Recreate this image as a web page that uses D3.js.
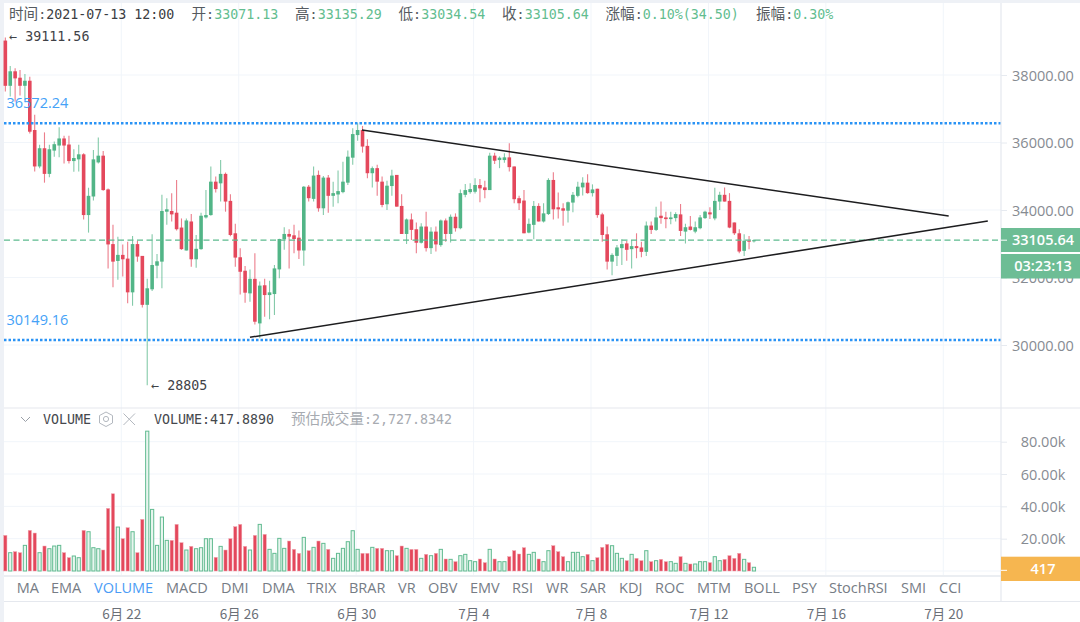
<!DOCTYPE html>
<html lang="zh">
  <head>
    <meta charset="UTF-8" />
    <title>BTC 4h</title>
    <script src="https://d3js.org/d3.v7.min.js"></script>
    <style>
      html, body { margin: 0; padding: 0; background: #fff; }
      svg { display: block; }
      .mono { font-family: "DejaVu Sans Mono", "Noto Sans CJK SC", monospace; font-size: 13.3px; }
      .cjk { font-family: "Noto Sans CJK SC", sans-serif; font-size: 14.6px; }
      .sans { font-family: "Open Sans", "Noto Sans", sans-serif; }
      .axis text { font-family: "Open Sans", "Noto Sans", sans-serif; font-size: 14.5px; fill: #868b92; text-anchor: middle; }
      .axis line { stroke: #e6eaf0; }
      .axis path { display: none; }
      .dateaxis text { font-family: "Noto Sans CJK SC", "Open Sans", sans-serif; font-size: 13.5px; fill: #6b7078; }
      .dateaxis line, .dateaxis path { display: none; }
    </style>
  </head>
  <body>
    <svg id="chart" width="1080" height="622" viewBox="0 0 1080 622"></svg>
    <script>
      // 4h candles
      const opens = [39020,37680,38110,37920,37680,37830,36370,35290,35830,35070,35760,35910,36120,35940,35450,35500,35650,33850,34400,35410,
        35610,34610,32990,32490,32670,32560,31560,32990,32640,31190,31650,32350,32470,33950,33970,33920,33480,32800,33660,32540,
        32840,33780,33850,34840,34790,35070,34270,33310,32600,32200,31530,31960,30640,31770,31480,31510,32240,33130,33290,33250,
        33180,32800,34690,34330,35040,34050,34960,34420,34460,34530,34810,35550,36220,36370,35900,35090,35240,34840,34170,34710,
        35040,34120,33290,33720,33430,33030,33510,32870,33360,32960,33690,33290,33800,33460,34450,34530,34540,34740,34670,34590,
        35610,35480,35480,35560,35290,34350,34280,33330,33560,34120,33660,33880,34890,34080,34050,33980,34220,34420,34670,34810,
        34500,34630,33870,33280,32470,32640,32870,33010,32840,32930,32890,32760,33540,33410,33830,33780,33730,33760,33870,33360,
        33510,33360,33460,33760,33930,33750,34250,34450,34270,33630,33310,32790,33090,33071.13];
      const highs = [39111.56,38270,38200,38150,38030,37950,36820,35930,36300,35930,36030,36450,36200,36200,35800,35930,35680,34660,35780,36150,
        35750,34640,33560,33210,32980,33060,33230,33090,32640,31960,33280,32700,34450,34350,34500,34890,33750,33750,33880,33260,
        33920,34590,35290,34990,35480,35110,34470,33590,32870,32340,32240,32720,31880,31960,31905,32370,33150,33490,33430,33560,
        33390,34710,34740,35290,35170,35010,35040,34840,35170,35430,35760,36420,36570,36490,36100,35290,35340,34990,34870,35190,
        35040,34470,33750,33900,33630,33610,33950,33490,33510,33720,33750,33870,33900,34610,34770,34790,34940,34920,34870,35700,
        35700,35590,35680,35980,35290,34420,34590,33750,34270,34200,34200,34940,35120,34520,34200,34250,34530,34840,34970,35060,
        34760,34630,33920,33510,32720,32960,33130,33080,33110,33310,33060,33660,33660,34100,34250,33950,33950,33930,34180,33590,
        33820,33660,33850,33980,34080,34660,34540,34670,34500,33630,33430,33280,33230,33135.29];
      const lows = [37510,37360,37210,37390,37260,36270,35140,35240,34810,34970,35580,35560,35380,35380,35130,35140,33720,33330,34280,35380,
        34570,32270,31710,31930,32030,31240,31160,32470,31110,28805,31600,31980,31680,33560,33660,33390,32820,32800,32320,32290,
        32820,33750,33830,34520,34250,33950,33220,32320,31500,31250,31280,30610,30200,30840,30760,30890,31980,32820,32270,32720,
        32550,32350,34250,34250,33950,33850,33920,34100,34200,34500,34740,35340,36050,35700,34940,34670,34420,34080,34000,34420,
        34100,33290,32990,33110,32720,33010,32770,32700,32770,32910,33060,33040,33360,33430,34380,34480,34490,34230,34350,34590,
        35360,35240,35400,35140,34200,34000,33310,33310,33130,33660,33630,33850,33720,33750,33530,33630,33930,34380,34430,34480,
        34400,33770,33060,32240,32070,32340,32370,32500,32270,32570,32600,32640,33290,33380,33590,33460,33580,33660,33230,33010,
        33390,33310,33430,33730,33730,33700,34000,34250,33460,33260,32720,32640,32840,33034.54];
      const closes = [37680,38110,37900,37680,37830,36320,35290,35830,35070,35800,35950,36120,35910,35450,35540,35650,33850,34420,35500,35610,
        34590,32980,32470,32670,32540,31560,32990,32620,31190,31680,32370,32480,33970,34020,33870,33430,32840,33690,32540,32850,
        33830,33850,34840,34620,35070,34250,33260,32590,32170,31550,31960,30690,31760,31480,31560,32270,33140,33290,33210,33140,
        32800,34690,34350,35020,34050,34960,34420,34500,34560,34840,35580,36250,36370,35880,35090,35240,34840,34150,34720,35020,
        34100,33290,33720,33410,33030,33510,32870,33360,32980,33690,33290,33800,33460,34500,34590,34620,34740,34640,34590,35610,
        35460,35550,35560,35270,34320,34200,33310,33590,34120,33660,33900,34890,34020,34020,33980,34230,34450,34690,34810,34500,
        34610,33850,33260,32470,32670,32890,32990,32820,32930,32870,32760,33540,33410,33780,33760,33730,33780,33880,33380,33490,
        33410,33490,33780,33950,33870,34270,34450,34250,33480,33310,32770,33090,33060,33105.64];
      const volumes = [22040,11330,11950,11330,15860,25130,23480,11330,15450,13800,15450,15860,11330,8240,9270,8240,25130,24310,14420,13800,
        12980,38730,47790,27190,19980,26780,24310,11330,31930,86520,38110,15860,33370,18950,18950,28840,17510,12980,15240,13800,
        14420,19980,19980,8450,15240,12980,19980,27400,28840,15240,12980,22040,28840,22660,13390,10920,20190,14010,18540,13390,
        10920,20810,12570,14630,18540,17100,13390,7830,10920,14010,18130,24930,13390,10920,10920,14630,14010,14010,12570,12570,
        9480,15450,14010,13390,13390,7830,10300,9480,10920,13390,7420,7210,5770,9480,10300,6390,5770,7420,5150,13390,
        7420,5770,5770,8860,12570,10510,14420,10300,11540,7420,5770,12570,15660,11950,8860,5770,11540,11540,8860,10300,
        6390,8240,14630,16480,15660,10920,7830,6390,10300,7830,6390,12570,5770,6390,7210,5770,5770,4740,8860,4740,
        4330,4330,5770,5770,5150,8860,6390,7210,9480,7830,10920,7210,5150,2300];

      const priceTicks = [38000,36000,34000,32000,30000];
      const volumeTicks = [80000,60000,40000,20000];
      const dateIndex = [24,48,72,96,120,144,168,192];
      const dateLabels = ["6月 22","6月 26","6月 30","7月 4","7月 8","7月 12","7月 16","7月 20"];

      // horizontal support / resistance and trend lines, in candle index / price
      const levels = [36572.24,30149.16];
      const lastPrice = 33105.64;
      const trendFrom = [[73.2,36370],[50.3,30228]];
      const trendTo = [[193.1,33822],[201.1,33674]];

      const tabLabels = ["MA","EMA","VOLUME","MACD","DMI","DMA","TRIX","BRAR","VR","OBV","EMV","RSI","WR","SAR","KDJ","ROC","MTM","BOLL","PSY","StochRSI","SMI","CCI"];
      const tabLeft = [16.7,51,94,166,221,262,307,349,398,428,470,512,546,580,619,655,697,744,792,829,901,939];

      const headLabels = ["时间:","开:","高:","低:","收:","涨幅:","振幅:"];
      const headValues = ["2021-07-13 12:00","33071.13","33135.29","33034.54","33105.64","0.10%(34.50)","0.30%"];
      const headLeft = [9,191.5,295,398.5,502,605.5,756];

      const RED = "#e4485c";
      const GREEN = "#52b587";
      const LEFT = 4, AXIS = 1001;

      const svg = d3.select("#chart");
      const x = d3.scaleLinear().domain([24,192]).range([121.3,943.3]);
      const y = d3.scaleLinear().domain([30000,38000]).range([345,75]);
      const yVol = d3.scaleLinear().domain([0,80000]).range([571,441.7]);
      const cx = i => x(i + 0.3);

      // frame
      svg.append("rect").attr("width",1080).attr("height",3).attr("fill","#eef1f6");
      svg.append("rect").attr("width",LEFT).attr("height",622).attr("fill","#eef1f6");

      // grid
      const grid = svg.append("g").attr("stroke","#f1f5fa").attr("stroke-width",1);
      grid.selectAll(".gx").data(dateIndex).enter().append("line")
        .attr("x1",d => x(d)).attr("x2",d => x(d)).attr("y1",3).attr("y2",575);
      grid.selectAll(".gy").data(priceTicks).enter().append("line")
        .attr("x1",LEFT).attr("x2",AXIS).attr("y1",d => y(d)).attr("y2",d => y(d));
      grid.selectAll(".gv").data(volumeTicks.concat([0])).enter().append("line")
        .attr("x1",LEFT).attr("x2",AXIS).attr("y1",d => yVol(d)).attr("y2",d => yVol(d));

      // candles
      const candles = svg.append("g");
      const idx = d3.range(opens.length);
      const colorOf = i => closes[i] >= opens[i] ? GREEN : RED;
      candles.selectAll("line").data(idx).enter().append("line")
        .attr("x1",cx).attr("x2",cx)
        .attr("y1",i => y(highs[i])).attr("y2",i => y(lows[i]))
        .attr("stroke",colorOf).attr("stroke-width",1.1).attr("opacity",0.7);
      candles.selectAll("rect").data(idx).enter().append("rect")
        .attr("x",i => cx(i) - 1.8).attr("width",3.6)
        .attr("y",i => y(Math.max(opens[i],closes[i])))
        .attr("height",i => Math.max(1,Math.abs(y(opens[i]) - y(closes[i]))))
        .attr("fill",colorOf);

      // volume bars: red solid, green hollow
      const bars = svg.append("g");
      bars.selectAll("rect").data(idx).enter().append("rect")
        .attr("x",i => cx(i) - 1.6).attr("width",3.2)
        .attr("y",i => yVol(volumes[i]))
        .attr("height",i => yVol(0) - yVol(volumes[i]))
        .attr("fill",i => closes[i] >= opens[i] ? "#e8f6ef" : RED)
        .attr("stroke",i => closes[i] >= opens[i] ? "#62bb91" : "#f0a3ad")
        .attr("stroke-width",i => closes[i] >= opens[i] ? 1 : 0.5);

      // current price + levels
      svg.append("line").attr("x1",LEFT).attr("x2",AXIS).attr("y1",y(lastPrice)).attr("y2",y(lastPrice))
        .attr("stroke","#5cbb8e").attr("stroke-width",1.2).attr("stroke-dasharray","6 3.5");
      svg.selectAll(".level").data(levels).enter().append("line")
        .attr("x1",LEFT).attr("x2",AXIS).attr("y1",d => y(d)).attr("y2",d => y(d))
        .attr("stroke","#2a93f5").attr("stroke-width",2.6)
        .attr("stroke-dasharray","2.5 2");

      // trend lines
      svg.selectAll(".trend").data(trendFrom).enter().append("line")
        .attr("x1",d => x(d[0])).attr("y1",d => y(d[1]))
        .attr("x2",(d,i) => x(trendTo[i][0])).attr("y2",(d,i) => y(trendTo[i][1]))
        .attr("stroke","#1d1d1f").attr("stroke-width",1.5);

      // pane separators
      const seps = svg.append("g").attr("stroke","#e5e8ee");
      seps.append("line").attr("x1",LEFT).attr("x2",1080).attr("y1",408).attr("y2",408).attr("stroke-width",1.2);
      seps.append("line").attr("x1",LEFT).attr("x2",AXIS).attr("y1",576).attr("y2",576).attr("stroke-width",1.6);
      seps.append("line").attr("x1",LEFT).attr("x2",1080).attr("y1",601.5).attr("y2",601.5).attr("stroke-width",1.2);
      seps.append("line").attr("x1",AXIS).attr("x2",AXIS).attr("y1",3).attr("y2",601.5).attr("stroke-width",1.2);

      // right axes
      svg.append("g").attr("class","axis").attr("transform",`translate(${AXIS},0)`)
        .call(d3.axisRight(y).tickValues(priceTicks).tickSize(6).tickFormat(d3.format(".2f")))
        .selectAll("text").attr("x",42).attr("dy","0.35em");
      svg.append("g").attr("class","axis").attr("transform",`translate(${AXIS},0)`)
        .call(d3.axisRight(yVol).tickValues(volumeTicks).tickSize(6).tickFormat(d => (d / 1000).toFixed(2) + "k"))
        .selectAll("text").attr("x",42).attr("dy","0.35em");

      // date axis
      svg.append("g").attr("class","dateaxis").attr("transform","translate(0,603)")
        .call(d3.axisBottom(x).tickValues(dateIndex).tickFormat((d,i) => dateLabels[i]))
        .selectAll("text").attr("y",6).attr("dy","0.71em");

      // right tags
      const tag = (yTop,h,fill,label,lineY) => {
        svg.append("rect").attr("x",AXIS).attr("y",yTop).attr("width",79).attr("height",h).attr("fill",fill);
        svg.append("text").attr("class","sans").attr("x",1043).attr("y",yTop + h / 2).attr("dy","0.36em")
          .attr("text-anchor","middle").attr("fill","#fff").attr("font-size",14.5).attr("font-weight",600).text(label);
        if (lineY !== null) {
          svg.append("line").attr("x1",AXIS).attr("x2",AXIS + 6).attr("y1",lineY).attr("y2",lineY).attr("stroke","#fff");
        }
      };
      tag(228,24,"#6dbd95",lastPrice.toFixed(2),y(lastPrice));
      tag(254,24.5,"#6dbd95","03:23:13",null);
      tag(556.7,24.3,"#f6b650","417",yVol(417.889));

      // header
      const head = svg.append("g");
      headLabels.forEach((t,i) => {
        const txt = head.append("text").attr("x",headLeft[i]).attr("y",19).attr("class","mono");
        txt.append("tspan").attr("class","cjk").attr("fill","#555a60").text(t.slice(0,-1));
        txt.append("tspan").attr("fill","#555a60").text(":");
        txt.append("tspan").attr("fill",i === 0 ? "#3a3d42" : "#62bd8f").text(headValues[i]);
      });

      // high / low notes
      const note = (xx,yy,label) => svg.append("text").attr("class","mono").attr("x",xx).attr("y",yy)
        .attr("dy","0.35em").attr("fill","#3f4247").text(label);
      note(cx(0) + 4,y(highs[0]) - 1,"← 39111.56");
      note(cx(29) + 4,y(28805),"← 28805");

      // level labels
      svg.selectAll(".levellabel").data(levels).enter().append("text")
        .attr("class","sans").attr("x",6.5).attr("y",d => y(d) - 20).attr("dy","0.35em")
        .attr("fill","#45a2f7").attr("font-size",14.5).text(d => d.toFixed(2));

      // pane header
      const pane = svg.append("g");
      pane.append("path").attr("d","M21 417 L25.5 421.5 L30 417").attr("fill","none").attr("stroke","#9aa0a8").attr("stroke-width",1);
      pane.append("text").attr("class","mono").attr("x",43).attr("y",419).attr("dy","0.35em").attr("fill","#45484d").text("VOLUME");
      pane.append("polygon").attr("points","106,412 112.5,415.5 112.5,423 106,426.5 99.5,423 99.5,415.5").attr("fill","none").attr("stroke","#b3b8bf").attr("stroke-width",1);
      pane.append("circle").attr("cx",106).attr("cy",419).attr("r",2.6).attr("fill","none").attr("stroke","#b3b8bf").attr("stroke-width",1);
      pane.append("path").attr("d","M123.5 413.5 L135 425 M135 413.5 L123.5 425").attr("stroke","#b3b8bf").attr("stroke-width",1);
      pane.append("text").attr("class","mono").attr("x",154).attr("y",419).attr("dy","0.35em").attr("fill","#45484d").text("VOLUME:417.8890");
      const est = pane.append("text").attr("class","mono").attr("x",291).attr("y",419).attr("dy","0.35em").attr("fill","#a7abb1");
      est.append("tspan").attr("class","cjk").text("预估成交量");
      est.append("tspan").text(":2,727.8342");

      // indicator tabs
      svg.selectAll(".tab").data(tabLabels).enter().append("text")
        .attr("class","sans").attr("x",(d,i) => tabLeft[i]).attr("y",588).attr("dy","0.36em")
        .attr("font-size",14.5).attr("fill",d => d === "VOLUME" ? "#4b9cf5" : "#767c85").text(d => d);
    </script>
  </body>
</html>
